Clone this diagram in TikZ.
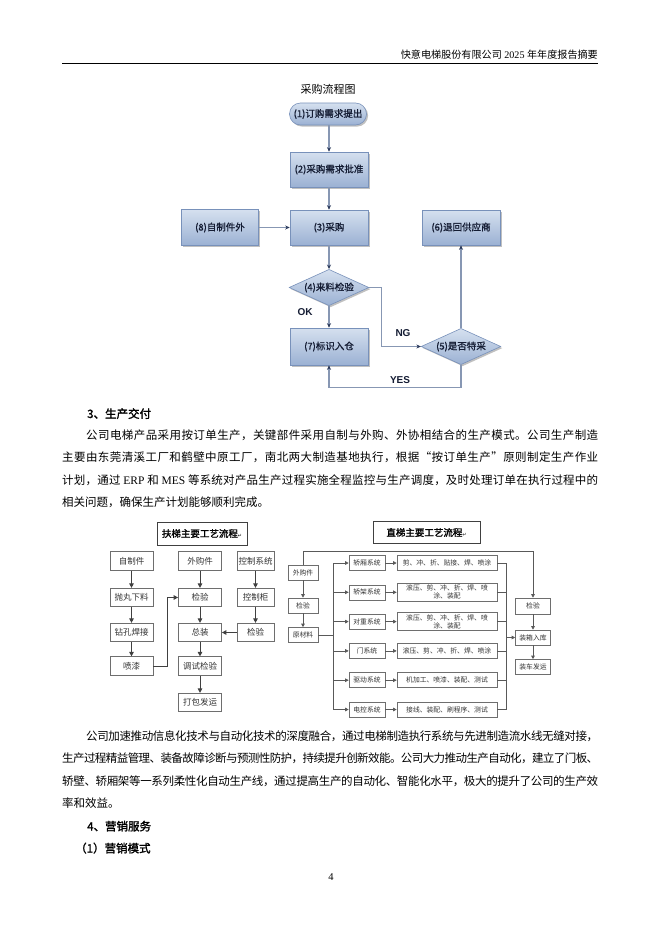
\documentclass[tikz,border=0pt]{standalone}
\usepackage{fontspec}
\setmainfont{Liberation Serif}
\newfontfamily\cjk{Noto Sans CJK SC}
\newfontfamily\cjkb[FakeBold=1.6]{Noto Sans CJK SC}
\newfontfamily\cjkm[FakeBold=0.8]{Noto Sans CJK SC}
\newfontfamily\symf{DejaVu Sans}
\newfontfamily\lsans{Liberation Sans}
\newfontfamily\lat{Liberation Serif}
\usetikzlibrary{shapes.geometric,shadows,arrows.meta}
\ExplSyntaxOn
\cs_new_protected:Npn \spreadchars #1
  { \tl_map_inline:nn {#1} { ##1 \hskip 0pt~plus~1fil~minus~1fil \relax } }
\ExplSyntaxOff
\newcommand\jline[1]{\hbox to 536bp{\spreadchars{#1}\unskip}}
\newcommand\jlinei[1]{\hbox to 536bp{\hskip 24bp\spreadchars{#1}\unskip}}
\definecolor{pfillA}{HTML}{D5E0EF}
\definecolor{pfillB}{HTML}{9BB1D3}
\definecolor{pdraw}{HTML}{7891BA}
\definecolor{ptext}{HTML}{141C33}
\definecolor{parrow}{HTML}{8797B3}
\definecolor{parrowhead}{HTML}{2B3A5C}
\definecolor{gline}{HTML}{6E6E6E}
\definecolor{gtext}{HTML}{333333}
\begin{document}
\begin{tikzpicture}[x=1bp,y=-1bp,
  pshade/.style={top color=pfillA, bottom color=pfillB, draw=pdraw, line width=0.6bp,
    drop shadow={shadow xshift=1.6bp, shadow yshift=-1.6bp, opacity=0.35, fill=black!70},
    text=ptext, font=\cjkm\fontsize{9.5bp}{11bp}\selectfont, inner sep=0pt},
  pbox/.style={pshade, rectangle, minimum width=78bp, minimum height=35bp},
  ppill/.style={pshade, rectangle, rounded corners=11bp, minimum width=77bp, minimum height=22bp},
  pdia/.style={pshade, diamond, shape aspect=2.2, text width=58bp, align=center, minimum width=78bp, minimum height=36bp},
  parr/.style={draw=parrow, line width=1.1bp, -{Stealth[length=4.5bp,width=4bp,color=parrowhead]}},
  plabel/.style={font=\lsans\bfseries\fontsize{10bp}{12bp}\selectfont, text=ptext, inner sep=0pt},
  ebox/.style={draw=gline, line width=0.7bp, minimum width=43bp, minimum height=18.5bp, inner sep=0pt,
    font=\cjk\fontsize{8.5bp}{10bp}\selectfont, text=gtext},
  etitle/.style={draw=black!75, line width=0.9bp, inner sep=0pt, font=\cjkb\fontsize{9.5bp}{11bp}\selectfont},
  earr/.style={draw=black!75, line width=0.9bp, -{Triangle[length=4.5bp,width=4.5bp]}},
  zbox/.style={draw=gline, line width=0.6bp, minimum width=36bp, minimum height=15bp, inner sep=0pt,
    font=\cjk\fontsize{6.8bp}{8bp}\selectfont, text=gtext},
  zproc/.style={zbox, minimum width=100bp, align=center},
  zline/.style={draw=black!65, line width=0.7bp},
  zarr/.style={zline, -{Triangle[length=3.5bp,width=3.5bp]}},
  tline/.style={anchor=base west, inner sep=0pt, font=\cjk\fontsize{11.5bp}{13bp}\selectfont},
  head/.style={anchor=base west, inner sep=0pt, font=\cjkb\fontsize{11.5bp}{13bp}\selectfont}
]
\useasboundingbox (0,0) rectangle (662,936);
\fill[white] (0,0) rectangle (662,936);

% header
\node[anchor=base east, inner sep=0pt, font=\fontsize{10.1bp}{12bp}\selectfont] (hdr) at (598,58)
  {{\cjk 快意电梯股份有限公司} 2025 {\cjk 年年度报告摘要}};
\draw[line width=0.9bp] (62,63.5) -- (598,63.5);

% ---------- procurement flow ----------
\node[font=\cjk\fontsize{11bp}{13bp}\selectfont] (ptitle) at (328,89) {采购流程图};
\node[ppill] (n1) at (328,114) {(1)订购需求提出};
\node[pbox]  (n2) at (329,169.5) {(2)采购需求批准};
\node[pbox]  (n3) at (329,227.5) {(3)采购};
\node[pbox, minimum width=77bp, minimum height=36bp] (n8) at (220,227.5) {(8)自制件外};
\node[pbox]  (n6) at (461,227.5) {(6)退回供应商};
\node[pdia]  (n4) at (329,287.5) {(4)来料检验};
\node[pbox, minimum height=37bp] (n7) at (329,346.5) {(7)标识入仓};
\node[pdia]  (n5) at (461,346.5) {(5)是否特采};

\draw[parr] (n1.south -| n2.north) -- (n2.north);
\draw[parr] (n2.south) -- (n3.north);
\draw[parr] (n8.east) -- (n8.east -| n3.west);
\draw[parr] (n3.south) -- (n4.north);
\draw[parr] (n4.south) -- (n7.north);
\draw[parr] (n4.east) -- ++(12,0) |- (n5.west);
\draw[parr] (n5.north) -- (n6.south);
\draw[parr] (n5.south) -- ++(0,23) -| (n7.south);
\node[plabel] (lok)  at (305,312) {OK};
\node[plabel] (lng)  at (403,333) {NG};
\node[plabel] (lyes) at (400,380) {YES};

% ---------- section 3 ----------
\node[head] (h3) at (87,418) {3、生产交付};
\node[tline] (pa1) at (62,439) {\jlinei{公司电梯产品采用按订单生产，关键部件采用自制与外购、外协相结合的生产模式。公司生产制造}};
\node[tline] (pa2) at (62,461.5) {\jline{主要由东莞清溪工厂和鹤壁中原工厂，南北两大制造基地执行，根据“按订单生产”原则制定生产作业}};
\node[tline] (pa3) at (62,484) {\jline{计划，通过{\ {\lat ERP}\ }和{\ {\lat MES}\ }等系统对产品生产过程实施全程监控与生产调度，及时处理订单在执行过程中的}};
\node[tline] (pa4) at (62,506.5) {相关问题，确保生产计划能够顺利完成。};

% ---------- escalator flow ----------
\node[etitle, minimum width=90bp, minimum height=23bp] (et) at (202,533.5)
  {扶梯主要工艺流程{\symf\fontsize{5bp}{5bp}\selectfont ↵}};
\node[ebox] (a1) at (131.5,561) {自制件};
\node[ebox] (a2) at (131.5,597.5) {抛丸下料};
\node[ebox] (a3) at (131.5,632.5) {钻孔焊接};
\node[ebox] (a4) at (131.5,666) {喷漆};
\node[ebox] (b1) at (200,561) {外购件};
\node[ebox] (b2) at (200,597.5) {检验};
\node[ebox] (b3) at (200,632.5) {总装};
\node[ebox] (b4) at (200,666) {调试检验};
\node[ebox] (b5) at (200,702.5) {打包发运};
\node[ebox, minimum width=37bp] (c1) at (255.5,561) {控制系统};
\node[ebox, minimum width=37bp] (c2) at (255.5,597.5) {控制柜};
\node[ebox, minimum width=37bp] (c3) at (255.5,632.5) {检验};
\draw[earr] (a1) -- (a2);
\draw[earr] (a2) -- (a3);
\draw[earr] (a3) -- (a4);
\draw[earr] (b1) -- (b2);
\draw[earr] (b2) -- (b3);
\draw[earr] (b3) -- (b4);
\draw[earr] (b4) -- (b5);
\draw[earr] (c1) -- (c2);
\draw[earr] (c2) -- (c3);
\draw[earr] (c3) -- (b3);
\draw[earr] (a4.east) -- ++(14,0) |- (b2.west);

% ---------- elevator flow ----------
\node[etitle, minimum width=107bp, minimum height=22bp] (zt) at (426.5,532.5)
  {直梯主要工艺流程{\symf\fontsize{5bp}{5bp}\selectfont ↵}};
\node[zbox, minimum width=30bp] (wg)  at (303,572.5) {外购件};
\node[zbox, minimum width=30bp] (jy1) at (303,605.5) {检验};
\node[zbox, minimum width=30bp] (ycl) at (303,635) {原材料};
\node[zbox] (s1) at (367,563)   {轿厢系统};
\node[zbox] (s2) at (367,592.3) {轿架系统};
\node[zbox] (s3) at (367,621.6) {对重系统};
\node[zbox] (s4) at (367,650.9) {门系统};
\node[zbox] (s5) at (367,680.2) {驱动系统};
\node[zbox] (s6) at (367,709.5) {电控系统};
\node[zproc] (q1) at (447,563)   {剪、冲、折、贴接、焊、喷涂};
\node[zproc, minimum height=18bp] (q2) at (447,592.3) {滚压、剪、冲、折、焊、喷\\涂、装配};
\node[zproc, minimum height=18bp] (q3) at (447,621.6) {滚压、剪、冲、折、焊、喷\\涂、装配};
\node[zproc] (q4) at (447,650.9) {滚压、剪、冲、折、焊、喷涂};
\node[zproc] (q5) at (447,680.2) {机加工、喷漆、装配、测试};
\node[zproc] (q6) at (447,709.5) {接线、装配、刷程序、测试};
\node[zbox, minimum width=35bp, minimum height=16bp] (jy2) at (533,606) {检验};
\node[zbox, minimum width=35bp] (zx) at (533,637.5) {装箱入库};
\node[zbox, minimum width=35bp] (zc) at (533,667) {装车发运};
\coordinate (ltop) at (333,563);
\coordinate (lbot) at (333,709.5);
\coordinate (rtop) at (506,563);
\coordinate (rbot) at (506,709.5);

\draw[zarr] (wg.north) -- ++(0,-13) -| (jy2.north);
\draw[zarr] (wg) -- (jy1);
\draw[zarr] (jy1) -- (ycl);
\draw[zline] (ycl.east) -- (ycl.east -| ltop);
\draw[zline] (ltop) -- (lbot);
\draw[zline] (rtop) -- (rbot);
\foreach \k in {1,...,6} {
  \draw[zarr] (s\k.west -| ltop) -- (s\k.west);
  \draw[zarr] (s\k.east) -- (q\k.west);
  \draw[zline] (q\k.east) -- (q\k.east -| rtop);
}
\draw[zarr] (zx.west -| rtop) -- (zx.west);
\draw[zarr] (jy2) -- (zx);
\draw[zarr] (zx) -- (zc);

% ---------- text after ----------
\node[tline] (pb1) at (62,740) {\jlinei{公司加速推动信息化技术与自动化技术的深度融合，通过电梯制造执行系统与先进制造流水线无缝对接，}};
\node[tline] (pb2) at (62,762.5) {\jline{生产过程精益管理、装备故障诊断与预测性防护，持续提升创新效能。公司大力推动生产自动化，建立了门板、}};
\node[tline] (pb3) at (62,785) {\jline{轿壁、轿厢架等一系列柔性化自动生产线，通过提高生产的自动化、智能化水平，极大的提升了公司的生产效}};
\node[tline] (pb4) at (62,807.5) {率和效益。};
\node[head] (h4) at (87,830.5) {4、营销服务};
\node[head] (h41) at (75,852.5) {（1）营销模式};
\node[font=\fontsize{10.5bp}{12bp}\selectfont, inner sep=0pt] (pg) at (331,877) {4};
\end{tikzpicture}
\end{document}
